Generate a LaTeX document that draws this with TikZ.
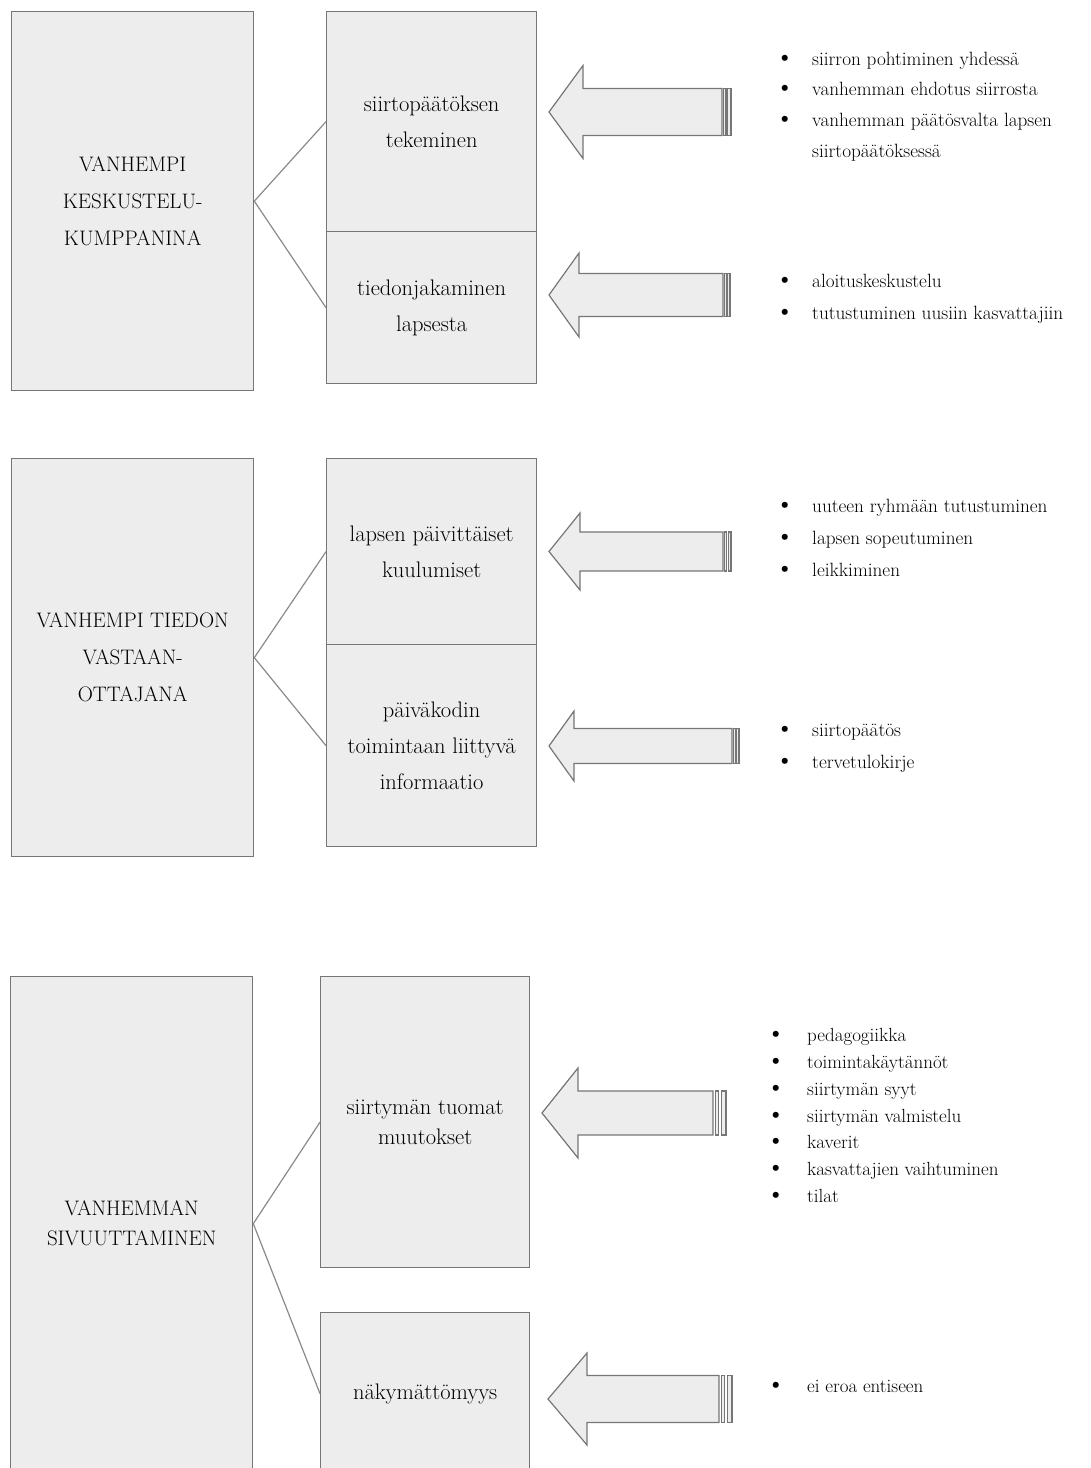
\documentclass[tikz,border=0pt]{standalone}
\usepackage{fontspec}
\definecolor{boxfill}{HTML}{EDEDED}
\definecolor{boxline}{HTML}{767676}
\definecolor{linegray}{HTML}{8A8A8A}
\newcommand\bigdot{{\fontsize{27}{27}\selectfont\textbullet}}
\tikzset{
  bigbox/.style={draw=boxline, fill=boxfill, line width=1.3pt, anchor=north west, inner sep=0pt, align=center, minimum width=242pt, font=\fontsize{21}{37}\selectfont},
  bigboxc/.style={bigbox, font=\fontsize{21}{30}\selectfont},
  smallbox/.style={draw=boxline, fill=boxfill, line width=1.3pt, anchor=north west, inner sep=0pt, align=center, minimum width=210pt, font=\fontsize{22.5}{36}\selectfont},
  smallboxc/.style={smallbox, minimum width=209pt, font=\fontsize{22.5}{30}\selectfont},
  link/.style={draw=linegray, line width=1.2pt},
  arrowshape/.style={draw=boxline, fill=boxfill, line width=1.2pt, line join=miter},
  bl/.style={anchor=base west, inner sep=0pt, font=\fontsize{19.2}{31}\selectfont},
  blc/.style={anchor=base west, inner sep=0pt, font=\fontsize{19}{27}\selectfont},
}
% tip x, head back x, shaft end x, stripes end x, centre y, head half height, shaft half height
\newcommand\striparrow[7]{%
  \draw[arrowshape] (#1,#5) -- (#2,{#5-#6}) -- (#2,{#5-#7}) -- (#3,{#5-#7}) -- (#3,{#5+#7}) -- (#2,{#5+#7}) -- (#2,{#5+#6}) -- cycle;
  \draw[arrowshape] ({#3+0.2*(#4-#3)},{#5-#7}) rectangle ({#3+0.45*(#4-#3)},{#5+#7});
  \draw[arrowshape] ({#3+0.65*(#4-#3)},{#5-#7}) rectangle ({#4},{#5+#7});
}
\begin{document}
\begin{tikzpicture}[x=1pt,y=-1pt]
\useasboundingbox (0,0) rectangle (1091,1468);
\clip (0,0) rectangle (1091,1468);

% ---------- section 1 ----------
\node[bigbox, minimum height=379pt] (b1) at (11,11) {VANHEMPI\\KESKUSTELU-\\KUMPPANINA};
\node[smallbox, minimum height=220pt] (s1) at (326,11) {siirtopäätöksen\\tekeminen};
\node[smallbox, minimum height=152pt] (s2) at (326,231) {tiedonjakaminen\\lapsesta};
\draw[link] (b1.east) -- (s1.west);
\draw[link] (b1.east) -- (s2.west);
\striparrow{549}{583}{722}{731}{112}{46.5}{23.5}
\striparrow{549}{579}{723}{730}{295}{42}{21.5}
\node[bl] (l11) at (775,65.7) {\makebox[37pt][l]{\bigdot}siirron pohtiminen yhdessä};
\node[bl] (l12) at (775,95.5) {\makebox[37pt][l]{\bigdot}vanhemman ehdotus siirrosta};
\node[bl] (l13) at (775,126.5) {\makebox[37pt][l]{\bigdot}vanhemman päätösvalta lapsen};
\node[bl] (l14) at (812,157.5) {siirtopäätöksessä};
\node[bl] (l21) at (775,287) {\makebox[37pt][l]{\bigdot}aloituskeskustelu};
\node[bl] (l22) at (775,319) {\makebox[37pt][l]{\bigdot}tutustuminen uusiin kasvattajiin};

% ---------- section 2 ----------
\node[bigbox, minimum height=398pt] (b2) at (11,458) {VANHEMPI TIEDON\\VASTAAN-\\OTTAJANA};
\node[smallbox, minimum height=186pt] (s3) at (326,458) {lapsen päivittäiset\\kuulumiset};
\node[smallbox, minimum height=202pt] (s4) at (326,644) {päiväkodin\\toimintaan liittyvä\\informaatio};
\draw[link] (b2.east) -- (s3.west);
\draw[link] (b2.east) -- (s4.west);
\striparrow{549}{580}{723}{731}{551.5}{38.5}{19.5}
\striparrow{549}{574}{732}{739}{746}{35}{17.5}
\node[bl] (l31) at (775,512) {\makebox[37pt][l]{\bigdot}uuteen ryhmään tutustuminen};
\node[bl] (l32) at (775,544) {\makebox[37pt][l]{\bigdot}lapsen sopeutuminen};
\node[bl] (l33) at (775,576) {\makebox[37pt][l]{\bigdot}leikkiminen};
\node[bl] (l41) at (775,736) {\makebox[37pt][l]{\bigdot}siirtopäätös};
\node[bl] (l42) at (775,768) {\makebox[37pt][l]{\bigdot}tervetulokirje};

% ---------- section 3 ----------
\node[bigboxc, minimum height=494pt] (b3) at (10,976) {VANHEMMAN\\SIVUUTTAMINEN};
\node[smallboxc, minimum height=291pt] (s5) at (320,976) {siirtymän tuomat\\muutokset};
\node[smallboxc, minimum height=162pt] (s6) at (320,1312) {näkymättömyys};
\draw[link] (b3.east) -- (s5.west);
\draw[link] (b3.east) -- (s6.west);
\striparrow{542}{578}{713}{726}{1113}{45}{22}
\striparrow{548}{587}{719}{732}{1399}{46}{23.5}
\node[blc] (l51) at (766,1041.7) {\makebox[41pt][l]{\bigdot}pedagogiikka};
\node[blc] (l52) at (766,1068.5) {\makebox[41pt][l]{\bigdot}toimintakäytännöt};
\node[blc] (l53) at (766,1095.3) {\makebox[41pt][l]{\bigdot}siirtymän syyt};
\node[blc] (l54) at (766,1122.1) {\makebox[41pt][l]{\bigdot}siirtymän valmistelu};
\node[blc] (l55) at (766,1148.9) {\makebox[41pt][l]{\bigdot}kaverit};
\node[blc] (l56) at (766,1175.7) {\makebox[41pt][l]{\bigdot}kasvattajien vaihtuminen};
\node[blc] (l57) at (766,1202.5) {\makebox[41pt][l]{\bigdot}tilat};
\node[blc] (l61) at (766,1392) {\makebox[41pt][l]{\bigdot}ei eroa entiseen};
\end{tikzpicture}
\end{document}
